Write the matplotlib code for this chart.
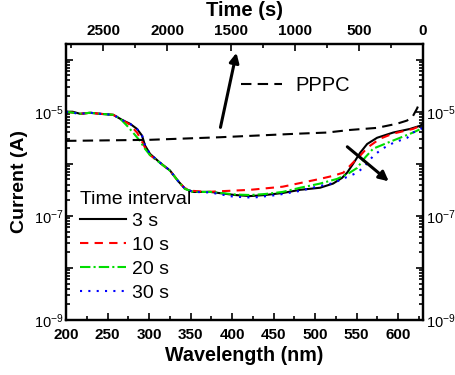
import numpy as np
import matplotlib
matplotlib.use("Agg")
import matplotlib.pyplot as plt
from matplotlib.ticker import LogLocator, FuncFormatter, MultipleLocator, NullFormatter

plt.rcParams['font.family'] = ['Liberation Sans', 'DejaVu Sans']
plt.rcParams['mathtext.fontset'] = 'custom'
plt.rcParams['mathtext.rm'] = 'Liberation Sans'
plt.rcParams['mathtext.default'] = 'regular'

# ---- data ----
wl_3s = [200, 208, 217, 229, 241, 257, 269, 277, 285.5, 291.6, 295.2, 301.2, 313.3, 325.3,
         334.9, 343.4, 353, 373.5, 403.6, 421.7, 439.8, 461.4, 481.9, 506, 521.7, 532.5,
         538.6, 545.8, 554.2, 562.7, 574.7, 594, 614.5, 626.5, 630]
i_3s = [-5.00, -5.00, -5.04, -5.02, -5.04, -5.06, -5.17, -5.23, -5.33, -5.46, -5.65, -5.81,
        -5.98, -6.13, -6.33, -6.48, -6.54, -6.54, -6.60, -6.62, -6.60, -6.56, -6.50, -6.46,
        -6.38, -6.27, -6.17, -6.00, -5.79, -5.62, -5.50, -5.40, -5.33, -5.27, -5.23]

wl_10s = [200, 217, 229, 241, 257, 269, 277, 285.5, 289.2, 295.2, 301, 313, 325, 335, 343,
          353, 370, 382, 422, 461, 482, 506, 522, 534, 548, 554, 563, 578, 594, 618, 630]
i_10s = [-5.00, -5.04, -5.02, -5.04, -5.06, -5.17, -5.25, -5.40, -5.50, -5.69, -5.83, -5.98,
         -6.13, -6.33, -6.47, -6.52, -6.54, -6.53, -6.50, -6.44, -6.37, -6.29, -6.23, -6.17,
         -5.94, -5.85, -5.69, -5.52, -5.42, -5.33, -5.25]

wl_20s = [200, 217, 229, 241, 257, 265, 273.5, 280.7, 289, 295, 301, 313, 325, 335, 343,
          353, 374, 404, 422, 440, 461, 482, 506, 526.5, 539.8, 550.6, 560.2, 569.9, 586.7,
          602.4, 618, 630]
i_20s = [-5.00, -5.04, -5.02, -5.04, -5.06, -5.13, -5.27, -5.40, -5.56, -5.71, -5.83, -5.98,
         -6.13, -6.33, -6.48, -6.54, -6.54, -6.59, -6.60, -6.58, -6.54, -6.46, -6.38, -6.29,
         -6.19, -6.08, -5.88, -5.71, -5.60, -5.50, -5.40, -5.31]

wl_30s = [200, 217, 229, 241, 257, 269, 277, 285.5, 291.6, 295.2, 301.2, 313.3, 325.3, 334.9,
          343.4, 353, 373.5, 401, 425, 454, 482, 502, 522, 536, 551, 560, 570, 581, 594, 611,
          618, 630]
i_30s = [-5.00, -5.04, -5.02, -5.04, -5.06, -5.17, -5.23, -5.33, -5.46, -5.65, -5.81, -5.98,
         -6.13, -6.33, -6.48, -6.54, -6.55, -6.63, -6.65, -6.60, -6.52, -6.44, -6.37, -6.27,
         -6.17, -6.04, -5.85, -5.71, -5.60, -5.50, -5.40, -5.31]

t_pppc = [2789, 2141, 1586, 961, 750, 570, 359, 203, 125, 78, 47, 31]
i_pppc = [-5.56, -5.54, -5.49, -5.42, -5.40, -5.35, -5.31, -5.23, -5.17, -5.08, -4.94, -4.85]

series = [
    ("3 s", wl_3s, i_3s, "black", "-"),
    ("10 s", wl_10s, i_10s, "#ff0000", (0, (4, 3))),
    ("20 s", wl_20s, i_20s, "#00dd00", (0, (5, 1.5, 1, 1.5))),
    ("30 s", wl_30s, i_30s, "#0000ff", (0, (1, 3))),
]

fig = plt.figure(figsize=(4.55, 3.75), dpi=100)
ax = fig.add_axes([0.1451, 0.1467, 0.7846, 0.736])

handles = []
for lab, wl, li, col, ls in series:
    h, = ax.plot(wl, 10.0 ** np.array(li), color=col, ls=ls, lw=1.5, label=lab)
    handles.append(h)

ax.set_yscale('log')
ax.set_xlim(200, 630)
ax.set_ylim(1e-9, 2e-4)

ax.xaxis.set_major_locator(MultipleLocator(50))
ax.xaxis.set_minor_locator(MultipleLocator(25))
ax.yaxis.set_major_locator(LogLocator(base=10, numticks=20))
ax.yaxis.set_minor_locator(LogLocator(base=10, subs=np.arange(2, 10), numticks=20))
ax.yaxis.set_minor_formatter(NullFormatter())

def yfmt(v, pos):
    e = int(round(np.log10(v)))
    if e in (-5, -7, -9):
        return r'$10^{%d}$' % e
    return ''
ax.yaxis.set_major_formatter(FuncFormatter(yfmt))

ax.tick_params(which='both', direction='in', top=False, right=True, width=1.2)
ax.tick_params(which='major', length=5)
ax.tick_params(which='minor', length=3)
ax.tick_params(axis='y', labelright=True, labelsize=10.5, pad=2)
ax.tick_params(axis='x', labelsize=11, pad=6)
for lbl in ax.get_xticklabels():
    lbl.set_fontweight('bold')
for sp in ax.spines.values():
    sp.set_linewidth(1.6)

ax.set_xlabel('Wavelength (nm)', fontsize=14.2, fontweight='bold', labelpad=3)
ax.set_ylabel('Current (A)', fontsize=14, fontweight='bold', labelpad=4)

# top time axis
ax2 = ax.twiny()
h_pppc, = ax2.plot(t_pppc, 10.0 ** np.array(i_pppc), color='black', ls=(0, (5, 3)), lw=1.5,
                   label='PPPC')
ax2.set_xlim(2789, 0)
ax2.xaxis.set_major_locator(MultipleLocator(500))
ax2.xaxis.set_minor_locator(MultipleLocator(250))
ax2.tick_params(which='both', direction='in', width=1.2)
ax2.tick_params(which='major', length=5)
ax2.tick_params(which='minor', length=3)
ax2.tick_params(axis='x', labelsize=11, pad=4)
for lbl in ax2.get_xticklabels():
    lbl.set_fontweight('bold')
ax2.set_xlabel('Time (s)', fontsize=14.5, fontweight='bold', labelpad=6)
for sp in ax2.spines.values():
    sp.set_linewidth(1.6)

leg1 = ax2.legend(handles=[h_pppc], loc='center left', bbox_to_anchor=(0.44, 0.85),
                  frameon=False, fontsize=14.5, handlelength=2.0, handletextpad=0.7)
leg2 = ax.legend(handles=handles, loc='lower left', bbox_to_anchor=(0.0, 0.015),
                 frameon=False, fontsize=14, title='Time interval', title_fontsize=14,
                 handlelength=2.4, handletextpad=0.3, labelspacing=0.33, borderaxespad=0.3)
leg2._legend_box.align = 'left'
leg2._legend_box.sep = 3

arrow = dict(arrowstyle='-|>', lw=2.2, color='black', mutation_scale=14)
ax.annotate('', xy=(0.479, 0.978), xytext=(0.431, 0.688), xycoords='axes fraction',
            textcoords='axes fraction', arrowprops=arrow)
ax.annotate('', xy=(0.910, 0.496), xytext=(0.782, 0.634), xycoords='axes fraction',
            textcoords='axes fraction', arrowprops=arrow)

fig.savefig('out.png', dpi=100)
